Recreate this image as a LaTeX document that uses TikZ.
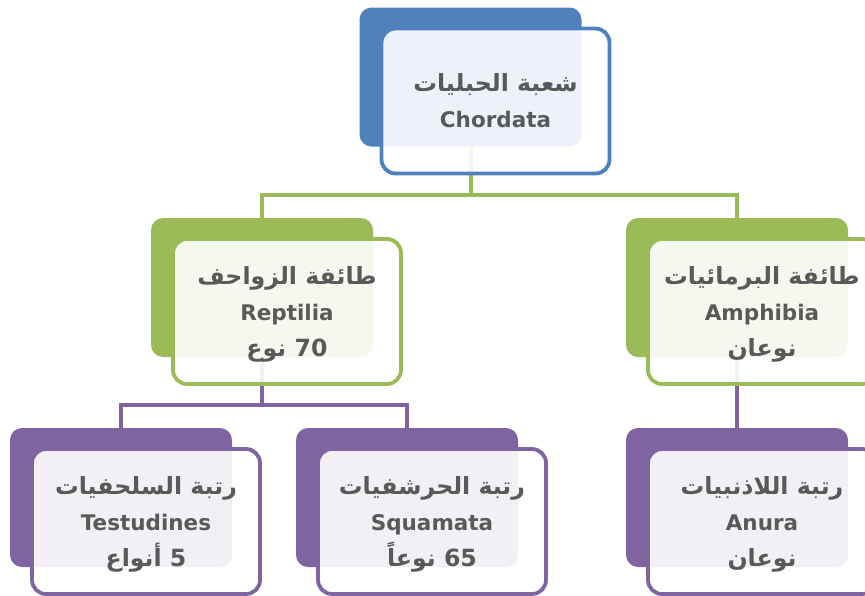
\documentclass[tikz,border=0pt]{standalone}
\usepackage{fontspec}
\setmainfont{DejaVu Sans}
\newfontfamily\arabicfont[Script=Arabic,Scale=1.1]{DejaVu Sans}
\TeXXeTstate=1
\usetikzlibrary{positioning}
\definecolor{chorblue}{HTML}{4F81BD}
\definecolor{classgreen}{HTML}{9BBB59}
\definecolor{orderpurple}{HTML}{8064A2}
\definecolor{labelgray}{HTML}{595959}
\newcommand{\artext}[1]{{\arabicfont\beginR #1\endR}}
\newcommand{\arnum}[2]{{\arabicfont\beginR\beginL #1\endL{} #2\endR}}

\begin{document}
\begin{tikzpicture}[x=1pt,y=-1pt,
    back/.style={rectangle, rounded corners=12pt, fill=#1, inner sep=0pt,
      minimum width=222pt, minimum height=139pt},
    front/.style={rectangle, rounded corners=14pt, draw=#1, line width=3.8pt,
      fill=white, fill opacity=0.9, text opacity=1, text=labelgray,
      minimum width=228pt, minimum height=145pt, align=center, text depth=0pt,
      font=\bfseries\fontsize{21.5}{36}\selectfont},
    link/.style={draw=#1, line width=4pt}]
  \useasboundingbox (0,0) rectangle (865,595);
  \clip (0,0) rectangle (865,595);
  % back boxes
  \node[back=chorblue] (chordataB) at (470.5,77) {};
  \node[back=classgreen] (reptiliaB) at (262,287.5) {};
  \node[back=classgreen] (amphibiaB) at (737,287.5) {};
  \node[back=orderpurple] (testudinesB) at (121,497.5) {};
  \node[back=orderpurple] (squamataB) at (407,497.5) {};
  \node[back=orderpurple] (anuraB) at (737,497.5) {};
  % connectors
  \draw[link=classgreen] (chordataB.south) -- ++(0,48) -| (reptiliaB.north);
  \draw[link=classgreen] (chordataB.south) -- ++(0,48) -| (amphibiaB.north);
  \draw[link=orderpurple] (reptiliaB.south) -- ++(0,48) -| (testudinesB.north);
  \draw[link=orderpurple] (reptiliaB.south) -- ++(0,48) -| (squamataB.north);
  \draw[link=orderpurple] (amphibiaB.south) -- (anuraB.north);
  % front boxes
  \node[front=chorblue] (chordata) at ([shift={(25,24)}]chordataB)
    {\artext{شعبة الحبليات}\\Chordata};
  \node[front=classgreen] (reptilia) at ([shift={(25,24)}]reptiliaB)
    {\artext{طائفة الزواحف}\\Reptilia\\\arnum{70}{نوع}};
  \node[front=classgreen] (amphibia) at ([shift={(25,24)}]amphibiaB)
    {\artext{طائفة البرمائيات}\\Amphibia\\\artext{نوعان}};
  \node[front=orderpurple] (testudines) at ([shift={(25,24)}]testudinesB)
    {\artext{رتبة السلحفيات}\\Testudines\\\arnum{5}{أنواع}};
  \node[front=orderpurple] (squamata) at ([shift={(25,24)}]squamataB)
    {\artext{رتبة الحرشفيات}\\Squamata\\\arnum{65}{نوعاً}};
  \node[front=orderpurple] (anura) at ([shift={(25,24)}]anuraB)
    {\artext{رتبة اللاذنبيات}\\Anura\\\artext{نوعان}};
\end{tikzpicture}
\end{document}
